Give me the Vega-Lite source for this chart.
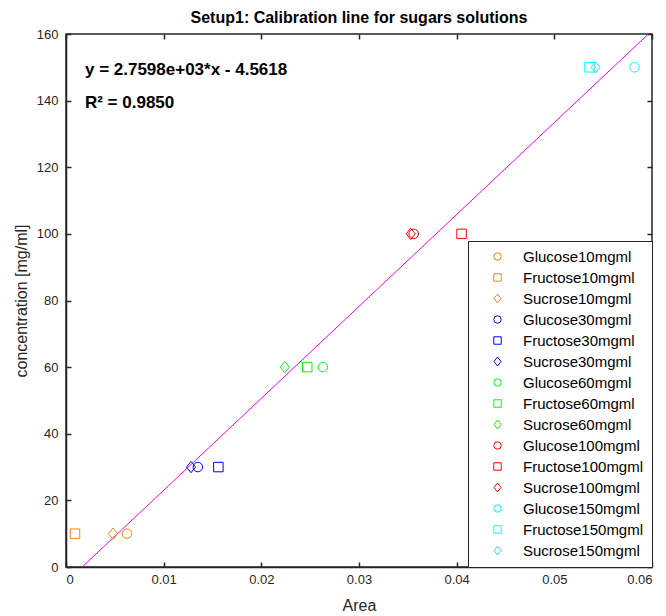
{
  "$schema": "https://vega.github.io/schema/vega-lite/v6.json",
  "width": 586,
  "height": 533,
  "autosize": "none",
  "padding": {"left": 66, "top": 34, "right": 14, "bottom": 49},
  "background": "white",
  "title": {"text": "Setup1: Calibration line for sugars solutions", "font": "Liberation Sans", "fontSize": 16, "fontWeight": "bold", "color": "black", "anchor": "middle", "offset": 2},
  "config": {
    "view": {"stroke": "#262626", "strokeWidth": 1.5},
    "axis": {"labelFont": "Liberation Sans", "titleFont": "Liberation Sans", "labelFontSize": 13, "titleFontSize": 16, "titleFontWeight": "normal", "labelColor": "#262626", "titleColor": "#262626", "domainColor": "#262626", "domainWidth": 1.5, "tickColor": "#262626", "tickWidth": 1.5, "tickSize": -5, "grid": false}
  },
  "datasets": {
    "points": [
      {"series": "Glucose10mgml", "area": 0.00624, "conc": 10},
      {"series": "Fructose10mgml", "area": 0.00092, "conc": 10},
      {"series": "Sucrose10mgml", "area": 0.00481, "conc": 10},
      {"series": "Glucose30mgml", "area": 0.0135, "conc": 30},
      {"series": "Fructose30mgml", "area": 0.0156, "conc": 30},
      {"series": "Sucrose30mgml", "area": 0.0128, "conc": 30},
      {"series": "Glucose60mgml", "area": 0.0263, "conc": 60},
      {"series": "Fructose60mgml", "area": 0.0247, "conc": 60},
      {"series": "Sucrose60mgml", "area": 0.0224, "conc": 60},
      {"series": "Glucose100mgml", "area": 0.0356, "conc": 100},
      {"series": "Fructose100mgml", "area": 0.0405, "conc": 100},
      {"series": "Sucrose100mgml", "area": 0.0353, "conc": 100},
      {"series": "Glucose150mgml", "area": 0.0582, "conc": 150},
      {"series": "Fructose150mgml", "area": 0.0536, "conc": 150},
      {"series": "Sucrose150mgml", "area": 0.0542, "conc": 150}
    ],
    "fit": [
      {"area": 0.001653, "conc": 0},
      {"area": 0.059628, "conc": 160}
    ],
    "notes": [
      {"area": 0.00194, "conc": 149.2, "label": "y = 2.7598e+03*x - 4.5618"},
      {"area": 0.00194, "conc": 139.3, "label": "R² = 0.9850"}
    ]
  },
  "layer": [
    {
      "layer": [
        {
          "data": {"name": "fit"},
          "mark": {"type": "line", "color": "#FF00FF", "strokeWidth": 1},
          "encoding": {
            "x": {"field": "area", "type": "quantitative"},
            "y": {"field": "conc", "type": "quantitative"}
          }
        },
        {
          "data": {"name": "points"},
          "mark": {"type": "point", "filled": false, "size": 90, "strokeWidth": 1, "opacity": 1},
          "encoding": {
            "x": {"field": "area", "type": "quantitative", "title": "Area", "scale": {"domain": [0, 0.06], "nice": false}, "axis": {"values": [0, 0.01, 0.02, 0.03, 0.04, 0.05, 0.06], "format": "~g", "labelPadding": 11, "titlePadding": 11}},
            "y": {"field": "conc", "type": "quantitative", "title": "concentration [mg/ml]", "scale": {"domain": [0, 160], "nice": false}, "axis": {"values": [0, 20, 40, 60, 80, 100, 120, 140, 160], "format": "d", "labelPadding": 13, "titlePadding": 7}},
            "color": {"field": "series", "type": "nominal",
              "scale": {"domain": ["Glucose10mgml", "Fructose10mgml", "Sucrose10mgml", "Glucose30mgml", "Fructose30mgml", "Sucrose30mgml", "Glucose60mgml", "Fructose60mgml", "Sucrose60mgml", "Glucose100mgml", "Fructose100mgml", "Sucrose100mgml", "Glucose150mgml", "Fructose150mgml", "Sucrose150mgml"],
                "range": ["#FF8000", "#FF8000", "#FF8000", "#0000FF", "#0000FF", "#0000FF", "#00FF00", "#00FF00", "#00FF00", "#FF0000", "#FF0000", "#FF0000", "#00FFFF", "#00FFFF", "#00FFFF"]},
              "legend": {"title": null, "orient": "bottom-right", "offset": 0, "labelFont": "Liberation Sans", "labelFontSize": 15, "labelColor": "black", "strokeColor": "#262626", "fillColor": "white", "padding": 8, "rowPadding": 5.0, "symbolOffset": 14, "labelOffset": 18, "symbolSize": 55, "symbolStrokeWidth": 1, "labelLimit": 200}},
            "shape": {"field": "series", "type": "nominal",
              "scale": {"domain": ["Glucose10mgml", "Fructose10mgml", "Sucrose10mgml", "Glucose30mgml", "Fructose30mgml", "Sucrose30mgml", "Glucose60mgml", "Fructose60mgml", "Sucrose60mgml", "Glucose100mgml", "Fructose100mgml", "Sucrose100mgml", "Glucose150mgml", "Fructose150mgml", "Sucrose150mgml"],
                "range": ["circle", "square", "M0,-1.2L0.95,0L0,1.2L-0.95,0Z", "circle", "square", "M0,-1.2L0.95,0L0,1.2L-0.95,0Z", "circle", "square", "M0,-1.2L0.95,0L0,1.2L-0.95,0Z", "circle", "square", "M0,-1.2L0.95,0L0,1.2L-0.95,0Z", "circle", "square", "M0,-1.2L0.95,0L0,1.2L-0.95,0Z"]}}
          }
        },
        {
          "data": {"name": "notes"},
          "mark": {"type": "text", "align": "left", "baseline": "middle", "font": "Liberation Sans", "fontSize": 17, "fontWeight": "bold", "color": "black"},
          "encoding": {
            "x": {"field": "area", "type": "quantitative"},
            "y": {"field": "conc", "type": "quantitative"},
            "text": {"field": "label", "type": "nominal"}
          }
        }
      ]
    },
    {
      "data": {"name": "fit"},
      "mark": {"type": "line", "opacity": 0},
      "encoding": {
        "x": {"field": "area", "type": "quantitative", "title": null, "scale": {"domain": [0, 0.06], "nice": false}, "axis": {"orient": "top", "values": [0, 0.01, 0.02, 0.03, 0.04, 0.05, 0.06], "labels": false, "domain": false}},
        "y": {"field": "conc", "type": "quantitative", "title": null, "scale": {"domain": [0, 160], "nice": false}, "axis": {"orient": "right", "values": [0, 20, 40, 60, 80, 100, 120, 140, 160], "labels": false, "domain": false}}
      }
    }
  ],
  "resolve": {"scale": {"x": "independent", "y": "independent"}, "axis": {"x": "independent", "y": "independent"}}
}
